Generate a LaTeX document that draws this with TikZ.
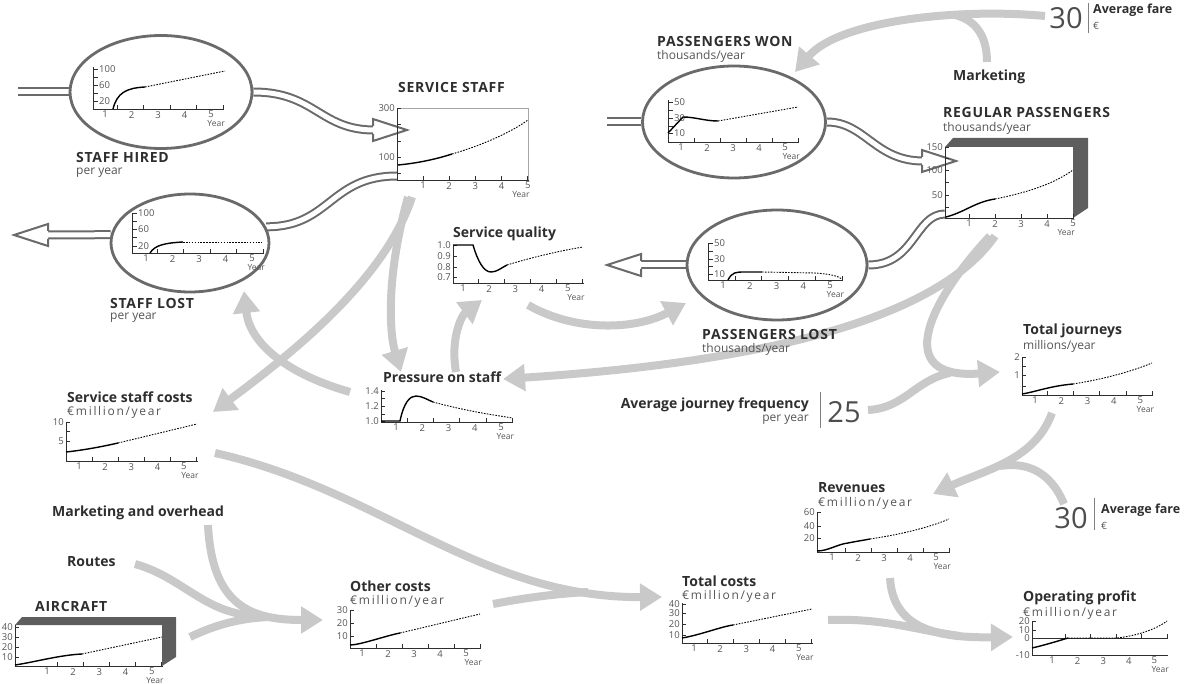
\documentclass[tikz,border=0pt]{standalone}
\usepackage{fontspec}
\setmainfont{Open Sans}
\usetikzlibrary{arrows.meta,shapes.geometric,positioning}
\pgfdeclarelayer{back}
\pgfsetlayers{back,main}

\definecolor{flowgray}{HTML}{C9C9C9}
\definecolor{pipegray}{HTML}{6A6A6A}
\definecolor{boxdark}{HTML}{5E5E5E}
\definecolor{inkgray}{HTML}{2E2E2E}
\definecolor{subgray}{HTML}{555555}

\tikzset{
  flow/.style={draw=flowgray, line width=8pt, -{Triangle[length=22pt,width=26pt]}},
  flowjoin/.style={draw=flowgray, line width=8pt},
  pipe/.style={draw=pipegray, line width=2pt, double=white, double distance=5pt},
  pipeedge/.style={draw=pipegray, line width=2pt, line join=miter},
  stockcirc/.style={ellipse, draw=pipegray, line width=2.8pt, fill=white, inner sep=0pt},
  axis/.style={draw=inkgray, line width=0.8pt},
  run/.style={draw=black, line width=1.4pt},
  trend/.style={draw=black, line width=0.9pt, dash pattern=on 1.6pt off 1.3pt},
  ttl/.style={font=\fontsize{14}{16}\selectfont\bfseries, text=inkgray, anchor=west, inner sep=0pt},
  capttl/.style={font=\fontsize{14}{16}\selectfont\bfseries\addfontfeature{LetterSpace=5}, text=inkgray, anchor=west, inner sep=0pt},
  unit/.style={font=\fontsize{12}{14}\selectfont, text=subgray, anchor=west, inner sep=0pt},
  eunit/.style={font=\fontsize{12}{14}\selectfont\addfontfeature{LetterSpace=14}, text=subgray, anchor=west, inner sep=0pt},
  farelbl/.style={font=\fontsize{12.5}{14}\selectfont\bfseries, text=inkgray, anchor=west, inner sep=0pt},
  tickl/.style={font=\fontsize{9.5}{11}\selectfont, text=subgray, inner sep=1pt},
  yearl/.style={font=\fontsize{8.5}{10}\selectfont, text=subgray, inner sep=0pt},
  bignum/.style={font=\fontsize{29}{31}\selectfont, text=inkgray!85, inner sep=0pt},
  bar/.style={draw=gray, line width=1pt},
}

% x axis: origin x, axis y, first tick x, label shift, tick spacing
\newcommand{\yearaxis}[5]{%
  \draw[axis] (#1,#2) -- ({#3+4*#5+1},#2);
  \foreach \k in {1,...,5} {
    \draw[axis] ({#3+(\k-1)*#5},#2) -- ++(0,-4);
    \node[tickl, anchor=north] at ({#3+(\k-1)*#5-#4},{#2+1}) {\k};
  }
  \node[yearl, anchor=north east] at ({#3+4*#5+2},{#2+11}) {Year};
}
% y axis, labels on the left: x, top, bottom, ticks
\newcommand{\valaxisL}[4]{%
  \draw[axis] (#1,#2) -- (#1,#3);
  \foreach \yy/\lbl in {#4} {
    \draw[axis] (#1,\yy) -- ++(4,0);
    \node[tickl, anchor=east] at ({#1-1},\yy) {\lbl};
  }
}
% y axis, labels on the right (inside the circles)
\newcommand{\valaxisR}[4]{%
  \draw[axis] (#1,#2) -- (#1,#3);
  \foreach \yy/\lbl in {#4} {
    \draw[axis] (#1,\yy) -- ++(5,0);
    \node[tickl, anchor=west] at ({#1+5},\yy) {\lbl};
  }
}
% open head at the end of a pipe: tip, direction (1 right, -1 left)
\newcommand{\pipehead}[2]{%
  \begin{scope}[shift={(#1)}, xscale=#2]
    \fill[white] (0,0) -- (-34,-11) -- (-34,11) -- cycle;
    \draw[pipeedge] (-34,-4) -- (-34,-11) -- (0,0) -- (-34,11) -- (-34,4);
  \end{scope}}

\begin{document}
\begin{tikzpicture}[x=1pt, y=-1pt]
\useasboundingbox (0,0) rectangle (1196,684);

% stocks and flows
\node[stockcirc, minimum width=182pt, minimum height=113pt] (hiredC) at (161,92) {};
\node[stockcirc, minimum width=158pt, minimum height=98pt] (lostC) at (190,243) {};
\node[stockcirc, minimum width=183pt, minimum height=112pt] (wonC) at (734,122) {};
\node[stockcirc, minimum width=180pt, minimum height=110pt] (plostC) at (777,265) {};
\node[draw=gray!70, line width=0.8pt, fill=white, minimum width=131pt, minimum height=72pt, inner sep=0pt, anchor=north west] (svcBox) at (397,108) {};
\node[fill=white, minimum width=128pt, minimum height=71pt, inner sep=0pt, anchor=north west] (regBox) at (945,147) {};
\node[fill=white, minimum width=147pt, minimum height=41pt, inner sep=0pt, anchor=north west] (acBox) at (15,625) {};
\fill[boxdark] (945,147) -- (953,138) -- (1088,138) -- (1088,208) -- (1073,218) -- (1073,147) -- cycle;
\fill[boxdark] (15,625) -- (22,617) -- (176,617) -- (176,657) -- (162,666) -- (162,625) -- cycle;

% ends of pipes and arrows
\coordinate (staffSrc) at (18,92);
\coordinate (svcIn) at (407,130);
\coordinate (svcOut) at (397,176);
\coordinate (staffSink) at (14,235);
\coordinate (paxSrc) at (607,122);
\coordinate (regIn) at (956,161);
\coordinate (regOut) at (945,214);
\coordinate (paxSink) at (607,265);
\coordinate (fareA) at (1045,16);
\coordinate (wonTop) at (795,72);
\coordinate (mktOut) at (987,62);
\coordinate (mktJoin) at (955,15);
\coordinate (svcOutA) at (412,197);
\coordinate (svcOutB) at (408,197);
\coordinate (scostIn) at (213,412);
\coordinate (pressIn) at (401,372);
\coordinate (pressOutL) at (350,392);
\coordinate (lostIn) at (244,291);
\coordinate (pressOutU) at (456,372);
\coordinate (qualIn) at (482,300);
\coordinate (qualOut) at (528,305);
\coordinate (plostIn) at (686,303);
\coordinate (regOutA) at (995,236);
\coordinate (regOutB) at (990,236);
\coordinate (pressInR) at (503,379);
\coordinate (journIn) at (1000,372);
\coordinate (freqOut) at (868,410);
\coordinate (freqJoin) at (950,373);
\coordinate (journOut) at (1052,413);
\coordinate (revIn) at (933,494);
\coordinate (fareB) at (1064,504);
\coordinate (fareJoin) at (1000,466);
\coordinate (revOut) at (890,578);
\coordinate (profIn) at (1013,637);
\coordinate (tcostOut) at (828,620);
\coordinate (profJoin) at (960,636);
\coordinate (scostOut) at (215,453);
\coordinate (tcostIn) at (662,597);
\coordinate (ocostOut) at (493,604);
\coordinate (tcostJoin) at (588,592);
\coordinate (mohOut) at (208,525);
\coordinate (ocostIn) at (323,620);
\coordinate (routeOut) at (135,564);
\coordinate (routeJoin) at (262,616);
\coordinate (acOut) at (190,637);
\coordinate (acJoin) at (270,617);

\begin{pgfonlayer}{back}
% influences
\draw[flow] (fareA) .. controls (960,8) and (840,20) .. (wonTop);
\draw[flowjoin] (mktOut) .. controls (987,35) and (975,20) .. (mktJoin);
\draw[flow] (svcOutA) .. controls (385,280) and (290,355) .. (scostIn);
\draw[flow] (svcOutB) .. controls (385,280) and (390,335) .. (pressIn);
\draw[flow] (pressOutL) .. controls (290,375) and (250,345) .. (lostIn);
\draw[flow] (pressOutU) .. controls (450,338) and (462,315) .. (qualIn);
\draw[flow] (qualOut) .. controls (575,332) and (635,330) .. (plostIn);
\draw[flow] (regOutA) .. controls (930,330) and (720,365) .. (pressInR);
\draw[flow] (regOutB) .. controls (930,300) and (890,380) .. (journIn);
\draw[flowjoin] (freqOut) .. controls (905,408) and (915,380) .. (freqJoin);
\draw[flow] (journOut) .. controls (1035,460) and (985,470) .. (revIn);
\draw[flowjoin] (fareB) .. controls (1050,470) and (1025,462) .. (fareJoin);
\draw[flow] (revOut) .. controls (893,630) and (940,638) .. (profIn);
\draw[flowjoin] (tcostOut) .. controls (885,618) and (915,630) .. (profJoin);
\draw[flow] (scostOut) .. controls (380,490) and (480,598) .. (tcostIn);
\draw[flowjoin] (ocostOut) .. controls (530,597) and (555,594) .. (tcostJoin);
\draw[flow] (mohOut) .. controls (212,605) and (250,620) .. (ocostIn);
\draw[flowjoin] (routeOut) .. controls (185,578) and (205,616) .. (routeJoin);
\draw[flowjoin] (acOut) .. controls (215,625) and (240,618) .. (acJoin);
% pipes
\draw[pipe] (staffSrc) -- (hiredC.west);
\draw[pipe] (hiredC.east) .. controls (315,92) and (320,130) .. ([xshift=-33pt]svcIn);
\draw[pipe] (svcOut) .. controls (330,176) and (330,227) .. (lostC.12);
\draw[pipe] (lostC.174) -- ([xshift=33pt]staffSink);
\draw[pipe] (paxSrc) -- (wonC.west);
\draw[pipe] (wonC.east) .. controls (865,122) and (875,161) .. ([xshift=-33pt]regIn);
\draw[pipe] (regOut) .. controls (915,214) and (915,265) .. (plostC.east);
\draw[pipe] (plostC.west) -- ([xshift=33pt]paxSink);
\end{pgfonlayer}

\pipehead{svcIn}{1}
\pipehead{staffSink}{-1}
\pipehead{regIn}{1}
\pipehead{paxSink}{-1}

% staff hired
\valaxisR{93}{67}{109}{69/100,77/{},85/60,93/{},101/20}
\yearaxis{93}{109}{117}{12}{26.5}
\draw[run] (113,109) .. controls (117,93) and (126,88) .. (145,87);
\draw[trend] (145,87) -- (225,71);
% service staff
\valaxisL{397}{108}{180}{108/300,124/{},141/{},157/100,173/{}}
\yearaxis{397}{180}{423}{0}{26.2}
\draw[run] (398,165) .. controls (420,163) and (440,158) .. (452,154);
\draw[trend] (452,154) .. controls (480,146) and (510,133) .. (528,120);
% staff lost
\valaxisR{132}{213}{253}{213/100,221/{},229/60,237/{},246/20}
\yearaxis{132}{253}{157}{11}{26.5}
\draw[run] (150,253) .. controls (155,245) and (165,243) .. (183,242);
\draw[trend] (183,242) -- (262,242);
% passengers won
\valaxisR{668}{100}{142}{102/50,110/{},118/30,126/{},133/10}
\yearaxis{668}{142}{694}{13}{26}
\draw[run] (668,133) -- (683,117) .. controls (695,117) and (705,121) .. (718,121);
\draw[trend] (718,121) -- (798,107);
% regular passengers
\valaxisL{945}{147}{218}{147/150,158/{},170/100,182/{},195/50,207/{}}
\yearaxis{945}{218}{969}{0}{26}
\draw[run] (946,217) .. controls (965,212) and (975,202) .. (995,199);
\draw[trend] (995,199) .. controls (1030,192) and (1055,183) .. (1073,170);
% passengers lost
\valaxisR{708}{243}{280}{243/50,251/{},259/30,266/{},274/10}
\yearaxis{708}{280}{735}{12}{26.8}
\draw[run] (728,280) .. controls (732,272) and (736,272) .. (745,272) -- (762,272);
\draw[trend] (762,272) -- (815,273) .. controls (830,274) and (838,276) .. (842,279);
% service quality
\valaxisL{453}{245}{283}{245/1.0,256/0.9,267/0.8,277/0.7}
\yearaxis{453}{283}{478}{15}{26.2}
\draw[run] (453,245) -- (473,245) .. controls (478,262) and (484,272) .. (491,272) .. controls (497,272) and (501,268) .. (507,265);
\draw[trend] (507,265) .. controls (540,255) and (565,250) .. (583,247);
% pressure on staff
\valaxisL{381}{390}{422}{391/1.4,398/{},406/1.2,414/{},421/1.0}
\yearaxis{381}{422}{407}{11}{26.3}
\draw[run] (381,421) -- (400,421) .. controls (404,402) and (410,396) .. (416,396) .. controls (422,396) and (428,400) .. (433,402);
\draw[trend] (433,402) .. controls (470,412) and (495,415) .. (512,418);
% service staff costs
\valaxisL{66}{422}{461}{422/10,431/{},441/5,451/{}}
\yearaxis{66}{461}{92}{13}{26.2}
\draw[run] (66,452) .. controls (85,450) and (105,446) .. (118,443);
\draw[trend] (118,443) -- (197,424);
% other costs
\valaxisL{350}{610}{648}{610/30,623/20,636/10}
\yearaxis{350}{648}{376}{14}{26}
\draw[run] (350,645) .. controls (360,645) and (385,636) .. (400,633);
\draw[trend] (400,633) -- (480,614);
% aircraft
\valaxisL{15}{625}{666}{627/40,637/30,647/20,657/10}
\yearaxis{15}{666}{57}{10}{26.2}
\draw[run] (15,665) .. controls (35,662) and (60,655) .. (82,654);
\draw[trend] (82,654) -- (162,637);
% total costs
\valaxisL{682}{603}{643}{604/40,613/30,624/20,635/10}
\yearaxis{682}{643}{707}{13}{26.2}
\draw[run] (682,638) .. controls (700,635) and (720,627) .. (733,625);
\draw[trend] (733,625) -- (812,609);
% revenues
\valaxisL{817}{512}{552}{512/60,526/40,538/20}
\yearaxis{817}{552}{845}{13}{26}
\draw[run] (817,551) .. controls (828,551) and (838,544) .. (848,543) .. controls (858,541) and (865,540) .. (870,539);
\draw[trend] (870,539) .. controls (910,533) and (935,525) .. (949,519);
% total journeys
\valaxisL{1022}{357}{395}{357/2,366/{},375/1,386/{}}
\yearaxis{1022}{395}{1047}{12}{26.3}
\draw[run] (1022,394) .. controls (1035,392) and (1050,386) .. (1073,384);
\draw[trend] (1073,384) .. controls (1110,378) and (1135,370) .. (1152,363);
% operating profit
\valaxisL{1032}{622}{655}{621/20,630/10,638/0,655/-10}
\draw[axis] (1032,638) -- (1168,638);
\draw[axis] (1032,655) -- (1168,655);
\foreach \k in {1,...,5} {
  \draw[axis] ({1065+(\k-1)*25.6},638) -- ++(0,-4);
  \node[tickl, anchor=north] at ({1065+(\k-1)*25.6-13},656) {\k};
}
\node[yearl, anchor=north east] at (1169,666) {Year};
\draw[run] (1032,648) .. controls (1045,645) and (1058,641) .. (1068,638);
\draw[trend] (1068,638) -- (1117,638) .. controls (1135,636) and (1155,630) .. (1167,621);

% labels
\node[capttl] (hiredT) at (76,158) {STAFF HIRED};
\node[unit] (hiredU) at (76,173) {per year};
\node[capttl] (svcT) at (398,88) {SERVICE STAFF};
\node[capttl] (lostT) at (110,303) {STAFF LOST};
\node[unit] (lostU) at (110,318) {per year};
\node[capttl] (wonT) at (657,41) {PASSENGERS WON};
\node[unit] (wonU) at (657,56) {thousands/year};
\node[capttl] (regT) at (943,113) {REGULAR PASSENGERS};
\node[unit] (regU) at (943,128) {thousands/year};
\node[capttl] (plostT) at (702,334) {PASSENGERS LOST};
\node[unit] (plostU) at (702,349) {thousands/year};
\node[capttl] (acT) at (35,606) {AIRCRAFT};
\node[ttl] (qualT) at (453,234) {Service quality};
\node[ttl] (pressT) at (383,377) {Pressure on staff};
\node[ttl] (journT) at (1023,331) {Total journeys};
\node[unit] (journU) at (1023,346) {millions/year};
\node[ttl] (scostT) at (67,397) {Service staff costs};
\node[eunit] (scostU) at (67,412) {€million/year};
\node[ttl] (ocostT) at (350,586) {Other costs};
\node[eunit] (ocostU) at (350,601) {€million/year};
\node[ttl] (tcostT) at (682,581) {Total costs};
\node[eunit] (tcostU) at (682,596) {€million/year};
\node[ttl] (revT) at (818,488) {Revenues};
\node[eunit] (revU) at (818,503) {€million/year};
\node[ttl] (profT) at (1023,598) {Operating profit};
\node[eunit] (profU) at (1023,613) {€million/year};
\node[ttl] (mktT) at (953,77) {Marketing};
\node[ttl] (mohT) at (52,513) {Marketing and overhead};
\node[ttl] (routeT) at (67,562) {Routes};
\node[ttl, anchor=east] (freqT) at (809,405) {Average journey frequency};
\node[unit, anchor=east] (freqU) at (809,420) {per year};
\node[bignum] (freqN) at (844,412) {25};
\draw[bar] (820,392) -- (820,428);
\node[bignum] (fareTopN) at (1066,18) {30};
\draw[bar] (1088,3) -- (1088,33);
\node[farelbl] (fareTopT) at (1093,10) {Average fare};
\node[unit, font=\fontsize{10}{12}\selectfont] (fareTopU) at (1093,26) {€};
\node[bignum] (fareN) at (1071,518) {30};
\draw[bar] (1094,498) -- (1094,530);
\node[farelbl] (fareT) at (1101,510) {Average fare};
\node[unit, font=\fontsize{10}{12}\selectfont] (fareU) at (1101,526) {€};
\end{tikzpicture}
\end{document}
